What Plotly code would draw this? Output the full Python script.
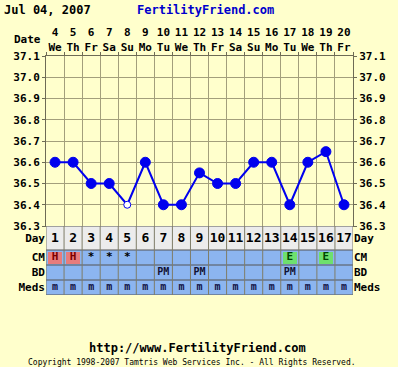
import plotly.graph_objects as go

# ---------------- data ----------------
cycle_days = list(range(1, 18))
dates = [4, 5, 6, 7, 8, 9, 10, 11, 12, 13, 14, 15, 16, 17, 18, 19, 20]
weekdays = ["We", "Th", "Fr", "Sa", "Su", "Mo", "Tu", "We", "Th", "Fr",
            "Sa", "Su", "Mo", "Tu", "We", "Th", "Fr"]
temps = [36.6, 36.6, 36.5, 36.5, 36.4, 36.6, 36.4, 36.4, 36.55, 36.5,
         36.5, 36.6, 36.6, 36.4, 36.6, 36.65, 36.4]
open_points = [False, False, False, False, True, False, False, False, False,
               False, False, False, False, False, False, False, False]
cm = ["H", "H", "*", "*", "*", "", "", "", "", "", "", "", "", "E", "", "E", ""]
bd = ["", "", "", "", "", "", "PM", "", "PM", "", "", "", "", "PM", "", "", ""]
meds = ["m"] * 17
temp_ticks = [36.3, 36.4, 36.5, 36.6, 36.7, 36.8, 36.9, 37.0, 37.1]
row_labels = ["Meds", "BD", "CM", "Day"]
title_date = "Jul 04, 2007"
site_name = "FertilityFriend.com"
footer_url = "http://www.FertilityFriend.com"
footer_copy = "Copyright 1998-2007 Tamtris Web Services Inc. - All Rights Reserved."

# ---------------- styling ----------------
BG = "#FFFFCC"
GRID = "#A39F7C"
BLUE = "#0000EE"
ROW_BLUE = "#8CB5F0"
ROW_GRAY = "#ECECEC"
FONT = "DejaVu Sans Mono"
row_edges = [0, 15, 30, 45, 69]   # table row heights (axis units)
n = len(cycle_days)
x_edges = [d - 0.5 for d in cycle_days] + [cycle_days[-1] + 0.5]
row_centers = [(row_edges[i] + row_edges[i + 1]) / 2 for i in range(4)]

W, H = 398, 367
mt, mb, ml, mr = 56, 72, 46, 45
ph = H - mt - mb
table_frac = row_edges[-1] / ph

tickfont = dict(family=FONT, size=11, color="black", weight="bold")

fig = go.Figure()

# temperature line
fig.add_trace(go.Scatter(
    x=cycle_days, y=temps, mode="lines+markers",
    line=dict(color=BLUE, width=2),
    marker=dict(size=[7 if o else 10 for o in open_points],
                color=["white" if o else BLUE for o in open_points],
                opacity=1,
                line=dict(color=BLUE, width=1)),
    xaxis="x", yaxis="y", showlegend=False, hoverinfo="skip"))
# right temperature axis helper
fig.add_trace(go.Scatter(x=[None], y=[None], xaxis="x", yaxis="y3",
                         showlegend=False, hoverinfo="skip"))

# table backgrounds
z = [[1] * n, [1] * n, [1] * n, [0] * n]
fig.add_trace(go.Heatmap(
    x=x_edges, y=row_edges, z=z, zmin=0, zmax=1,
    colorscale=[[0, ROW_GRAY], [1, ROW_BLUE]], showscale=False,
    xaxis="x2", yaxis="y2", hoverinfo="skip"))

# CM highlight cells
hl_colors = {"H": "#E87C7C", "E": "#6EE06E"}
hx = [d for d, c in zip(cycle_days, cm) if c in hl_colors]
hc = [hl_colors[c] for c in cm if c in hl_colors]
fig.add_trace(go.Bar(
    x=hx, y=[row_edges[3] - row_edges[2] - 3] * len(hx),
    base=[row_edges[2] + 1.5] * len(hx), width=0.8,
    marker=dict(color=hc, line=dict(width=0)),
    xaxis="x2", yaxis="y2", showlegend=False, hoverinfo="skip"))
fig.add_trace(go.Scatter(x=[None], y=[None], xaxis="x2", yaxis="y4",
                         showlegend=False, hoverinfo="skip"))

# table texts
def text_row(texts, yc, color, size):
    fig.add_trace(go.Scatter(
        x=cycle_days, y=[yc] * n, mode="text", text=texts,
        textfont=dict(family=FONT, size=size, color=color, weight="bold"),
        xaxis="x2", yaxis="y2", showlegend=False, hoverinfo="skip"))

text_row([str(d) for d in cycle_days], row_centers[3] - 1, "black", 13)
cm_colors = ["#7A0000" if c == "H" else "#004400" if c == "E" else "black" for c in cm]
fig.add_trace(go.Scatter(
    x=cycle_days, y=[row_centers[2]] * n, mode="text", text=cm,
    textfont=dict(family=FONT, size=11, color=cm_colors, weight="bold"),
    xaxis="x2", yaxis="y2", showlegend=False, hoverinfo="skip"))
text_row(bd, row_centers[1], "#111133", 10)
text_row(meds, row_centers[0], "#111144", 10)

# table grid lines
shapes = []
for e in row_edges:
    shapes.append(dict(type="line", xref="x2", yref="y2", x0=x_edges[0], x1=x_edges[-1],
                       y0=e, y1=e, line=dict(color="#555555", width=1), layer="above"))
for xe in x_edges:
    shapes.append(dict(type="line", xref="x2", yref="y2", x0=xe, x1=xe,
                       y0=row_edges[0], y1=row_edges[-1],
                       line=dict(color="#7F7D68", width=1), layer="above"))

xr = [x_edges[0], x_edges[-1]]
yr = [temp_ticks[0], temp_ticks[-1]]
fig.update_layout(
    width=W, height=H, margin=dict(l=ml, r=mr, t=mt, b=mb),
    paper_bgcolor=BG, plot_bgcolor=BG, shapes=shapes,
    xaxis=dict(domain=[0, 1], range=xr, side="top", anchor="y",
               tickmode="array", tickvals=cycle_days,
               ticktext=[f"{d}<br>{w}" for d, w in zip(dates, weekdays)],
               ticks="", showgrid=False, tickfont=tickfont,
               showline=True, linecolor="#6E6B55", mirror=True,
               minor=dict(tickmode="array", tickvals=x_edges, showgrid=True,
                          gridcolor=GRID, gridwidth=1, ticks="outside",
                          ticklen=3, tickcolor="#6E6B55")),
    yaxis=dict(domain=[table_frac, 1], range=yr, anchor="x",
               tickmode="array", tickvals=temp_ticks,
               ticktext=[f"{t:.1f}" for t in temp_ticks],
               showgrid=True, gridcolor=GRID, ticks="outside", ticklen=3,
               tickcolor="#6E6B55", tickfont=tickfont, zeroline=False,
               showline=True, linecolor="#6E6B55", mirror=True),
    yaxis3=dict(overlaying="y", side="right", range=yr, anchor="x",
                tickmode="array", tickvals=temp_ticks,
                ticktext=[f"{t:.1f}" for t in temp_ticks],
                showgrid=False, ticks="outside", ticklen=3, tickcolor="#6E6B55",
                tickfont=tickfont, zeroline=False),
    xaxis2=dict(domain=[0, 1], range=xr, anchor="y2", showticklabels=False,
                showgrid=False, zeroline=False, ticks=""),
    yaxis2=dict(domain=[0, table_frac], range=[row_edges[0], row_edges[-1]],
                anchor="x2", tickmode="array", tickvals=row_centers,
                ticktext=row_labels, showgrid=False, zeroline=False,
                tickfont=tickfont, ticks=""),
    yaxis4=dict(overlaying="y2", side="right", range=[row_edges[0], row_edges[-1]],
                anchor="x2", tickmode="array", tickvals=row_centers,
                ticktext=row_labels, showgrid=False, zeroline=False,
                tickfont=tickfont, ticks=""),
    bargap=0,
    annotations=[
        dict(text=title_date, xref="paper", yref="paper", x=0, y=1,
             xanchor="left", yanchor="middle", xshift=-ml + 2, yshift=46,
             showarrow=False, font=dict(family=FONT, size=12, color="black", weight="bold")),
        dict(text=site_name, xref="paper", yref="paper", x=0.5, y=1,
             xanchor="center", yanchor="middle", xshift=6, yshift=46,
             showarrow=False, font=dict(family=FONT, size=12, color="#0000CC", weight="bold")),
        dict(text="Date", xref="paper", yref="paper", x=0, y=1,
             xanchor="right", yanchor="middle", xshift=-3, yshift=17,
             showarrow=False, font=tickfont),
        dict(text=footer_url, xref="paper", yref="paper", x=0.5, y=0,
             xanchor="center", yanchor="middle", xshift=-2, yshift=-53,
             showarrow=False, font=dict(family=FONT, size=12, color="black", weight="bold")),
        dict(text=footer_copy, xref="paper", yref="paper", x=0.5, y=0,
             xanchor="center", yanchor="middle", xshift=-8, yshift=-67,
             showarrow=False, font=dict(family=FONT, size=8, color="black")),
    ],
)

fig.write_html("out.html", post_script="document.body.style.margin='0';",
               config={"displayModeBar": False})
